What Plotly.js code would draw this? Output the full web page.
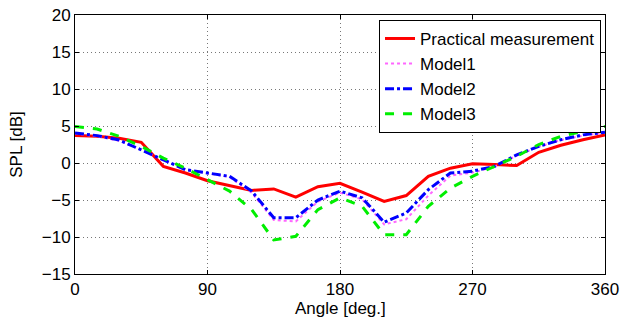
<!DOCTYPE html>
<html>
<head>
<meta charset="utf-8">
<script src="https://cdn.plot.ly/plotly-3.0.1.min.js"></script>
<style>html,body{margin:0;padding:0;background:#fff;}#chart{width:636px;height:320px;}</style>
</head>
<body>
<div id="chart"></div>
<script>
var angles = [0,15,30,45,60,75,90,105,120,135,150,165,180,195,210,225,240,255,270,285,300,315,330,345,360];
var practical = [3.7,3.6,3.35,2.8,-0.45,-1.35,-2.4,-3.0,-3.7,-3.5,-4.6,-3.2,-2.75,-3.95,-5.2,-4.4,-1.8,-0.7,-0.1,-0.2,-0.35,1.45,2.4,3.15,3.8];
var model1 = [4.0,3.6,3.0,1.8,0.4,-0.9,-1.4,-1.9,-4.0,-7.7,-7.9,-5.2,-4.0,-4.9,-8.3,-7.6,-4.4,-1.7,-1.3,-0.5,1.0,2.2,3.1,3.7,4.1];
var model2 = [4.05,3.7,3.1,1.8,0.45,-0.9,-1.35,-1.8,-3.8,-7.4,-7.4,-5.0,-3.8,-4.7,-8.0,-6.75,-3.6,-1.35,-1.1,-0.45,1.1,2.25,3.15,3.8,4.15];
var model3 = [4.95,4.6,3.6,2.25,0.65,-0.7,-2.25,-3.8,-6.3,-10.4,-9.9,-6.3,-4.7,-5.85,-9.7,-9.7,-5.85,-3.4,-1.8,-0.45,0.9,2.5,3.6,4.3,4.95];
var names = ["Practical measurement","Model1","Model2","Model3"];
var xTicks = [0,90,180,270,360];
var yTicks = [-15,-10,-5,0,5,10,15,20];
var xTitle = "Angle [deg.]";
var yTitle = "SPL [dB]";

var traces = [
  {x: angles, y: practical, name: names[0], mode: "lines", line: {color: "#ff0000", width: 3, dash: "solid"}},
  {x: angles, y: model1, name: names[1], mode: "lines", line: {color: "#ff66ff", width: 2, dash: "dot"}},
  {x: angles, y: model2, name: names[2], mode: "lines", line: {color: "#0000ff", width: 3, dash: "dashdot"}},
  {x: angles, y: model3, name: names[3], mode: "lines", line: {color: "#00ee00", width: 3, dash: "dash"}}
];

var fontFam = "Liberation Sans, Arial, sans-serif";
var layout = {
  width: 636, height: 320,
  margin: {l: 75, r: 31, t: 15, b: 46, pad: 0},
  paper_bgcolor: "#ffffff", plot_bgcolor: "#ffffff",
  font: {family: fontFam, size: 17, color: "#000"},
  showlegend: true,
  legend: {
    x: 0.9925, y: 0.981, xanchor: "right", yanchor: "top",
    bgcolor: "#ffffff", bordercolor: "#000", borderwidth: 1,
    font: {family: fontFam, size: 17, color: "#000"},
    tracegroupgap: 0, itemwidth: 30
  },
  xaxis: {
    range: [0, 360], tickvals: xTicks, ticktext: xTicks.map(String),
    showgrid: true, gridcolor: "#777", griddash: "1px,3px", gridwidth: 1,
    zeroline: false, showline: true, linecolor: "#000", linewidth: 1, mirror: "ticks",
    ticks: "inside", ticklen: 4, tickcolor: "#000",
    tickfont: {family: fontFam, size: 17, color: "#000"}
  },
  yaxis: {
    range: [-15, 20], tickvals: yTicks, ticktext: yTicks.map(function(v){return v < 0 ? "\u2212" + Math.abs(v) : String(v);}),
    showgrid: true, gridcolor: "#777", griddash: "1px,3px", gridwidth: 1,
    zeroline: false, showline: true, linecolor: "#000", linewidth: 1, mirror: "ticks",
    ticks: "inside", ticklen: 4, tickcolor: "#000",
    tickfont: {family: fontFam, size: 17, color: "#000"},
    title: {text: yTitle, font: {family: fontFam, size: 17, color: "#000"}, standoff: 14}
  },
  annotations: [
    {text: xTitle, xref: "paper", yref: "paper", x: 0.5, y: -0.134, xanchor: "center", yanchor: "middle",
     showarrow: false, font: {family: fontFam, size: 17, color: "#000"}}
  ]
};
Plotly.newPlot("chart", traces, layout, {displayModeBar: false, staticPlot: true});
</script>
</body>
</html>
